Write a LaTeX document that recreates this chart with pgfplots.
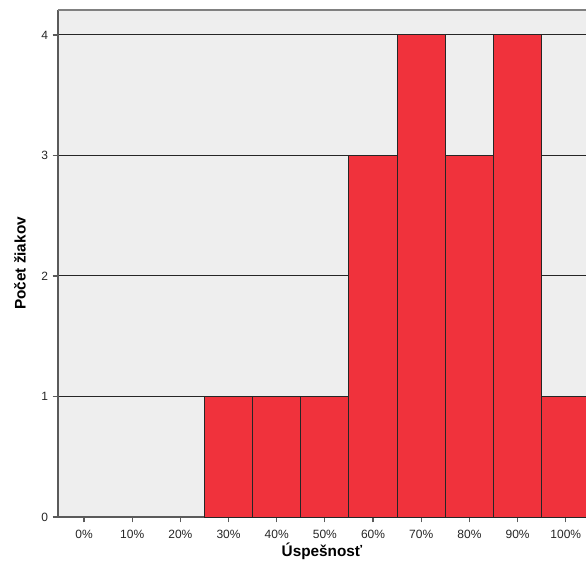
\documentclass[border=0pt]{standalone}
\usepackage{pgfplots}
\pgfplotsset{compat=1.18}
\usepackage{fontspec}
\setmainfont{Liberation Sans}
\definecolor{bg}{HTML}{EEEEEE}
\definecolor{barred}{HTML}{F0323C}
\definecolor{axgray}{HTML}{5A5A5A}
\begin{document}
\begin{tikzpicture}
\begin{axis}[
  at={(0,0)}, anchor=south west,
  scale only axis,
  width=396pt, height=380.25pt,
  xmin=-5.4, xmax=104.2,
  ymin=0, ymax=4.207,
  axis x line*=bottom, axis y line*=left,
  axis background/.style={fill=bg},
  axis line style={axgray, line width=1.1pt},
  xtick={0,10,...,100},
  xticklabels={0\%,10\%,20\%,30\%,40\%,50\%,60\%,70\%,80\%,90\%,100\%},
  ytick={0,1,2,3,4},
  tick style={axgray, line width=0.9pt},
  tick align=outside,
  major tick length=4pt,
  ymajorgrids,
  grid style={black!85, line width=0.75pt},
  tick label style={font=\fontsize{9}{10}\selectfont, text=black!85},
  xticklabel style={yshift=-2pt},
  /pgf/number format/assume math mode=true,
  xlabel={\textbf{Úspešnosť}},
  ylabel={\textbf{Počet žiakov}},
  label style={font=\fontsize{11.5}{13}\selectfont},
  xlabel style={at={(axis description cs:0.5,0)}, anchor=center, yshift=-25.5pt},
  ylabel style={at={(axis description cs:0,0.5)}, anchor=center, yshift=28.5pt},
  clip=true,
]
\addplot[ybar, bar width=10, bar shift=0pt, fill=barred, draw=black!85, line width=0.75pt]
  coordinates {(30,1) (40,1) (50,1) (60,3) (70,4) (80,3) (90,4) (100,1)};
\end{axis}
\draw[black!50, line width=1.1pt] (0,380.25pt) -- (396pt,380.25pt);
\pgfresetboundingbox
\path[use as bounding box] (-43.5pt,-44.25pt) rectangle (396pt,387.75pt);
\end{tikzpicture}
\end{document}
